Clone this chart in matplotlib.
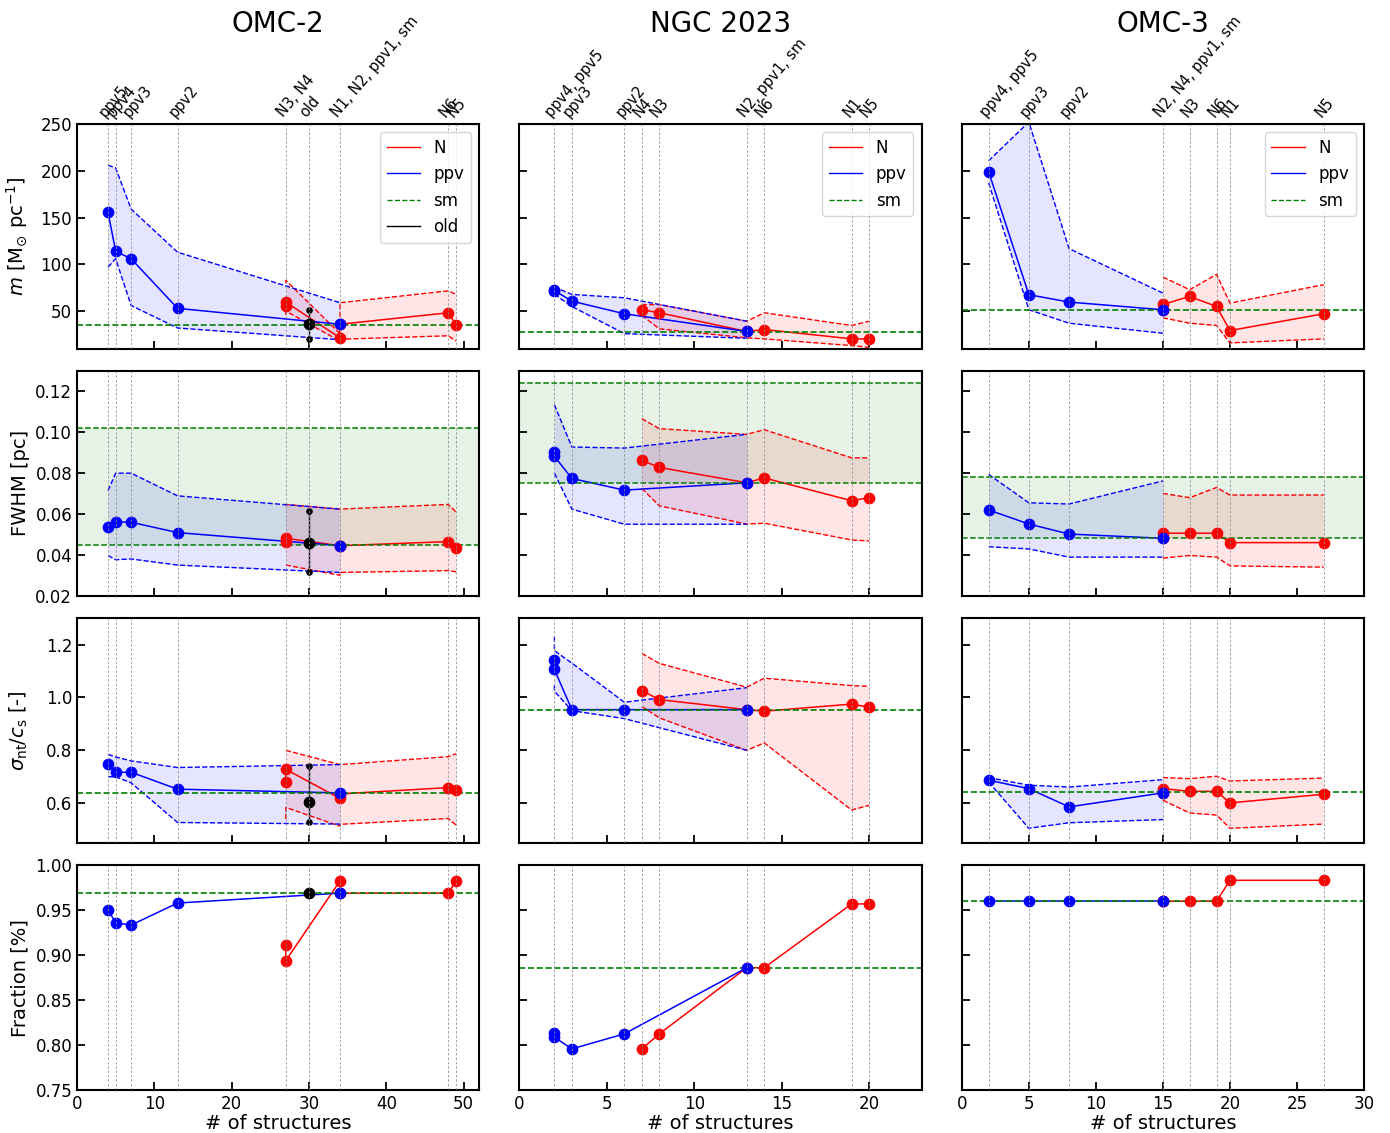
import matplotlib
matplotlib.use('Agg')
import matplotlib.pyplot as plt
from matplotlib.lines import Line2D

# ---------------- OMC-2 ----------------
o2_top_x = [4, 5, 7, 13, 27, 30, 34, 48, 49]
o2_top_lab = ['ppv5', 'ppv4', 'ppv3', 'ppv2', 'N3, N4', 'old', 'N1, N2, ppv1, sm', 'N6', 'N5']

o2_ppv_x = [4, 5, 7, 13, 34]
o2_ppv_m = [156, 114, 106, 53, 36]
o2_ppv_m_lo = [97, 106, 56, 32, 19.5]
o2_ppv_m_hi = [206, 203, 159, 113, 59]
o2_ppv_fwhm = [0.0538, 0.0562, 0.0560, 0.0509, 0.0445]
o2_ppv_fwhm_lo = [0.0397, 0.0376, 0.0380, 0.0350, 0.0314]
o2_ppv_fwhm_hi = [0.0714, 0.0800, 0.0800, 0.0689, 0.0624]
o2_ppv_sig = [0.747, 0.717, 0.717, 0.653, 0.639]
o2_ppv_sig_lo = [0.700, 0.700, 0.677, 0.527, 0.521]
o2_ppv_sig_hi = [0.785, 0.775, 0.760, 0.735, 0.746]
o2_ppv_frac = [0.9506, 0.936, 0.9335, 0.958, 0.969]

o2_N_x = [27, 27, 34, 34, 48, 49]
o2_N_m = [55, 59.6, 21.5, 36, 48.3, 35.7]
o2_N_m_lo = [46, 50, 18, 20, 23.7, 18]
o2_N_m_hi = [80, 83, 26, 59, 71.7, 68]
o2_N_fwhm = [0.0465, 0.0481, 0.0445, 0.0445, 0.0465, 0.0436]
o2_N_fwhm_lo = [0.0350, 0.0350, 0.0300, 0.0314, 0.0323, 0.0317]
o2_N_fwhm_hi = [0.0640, 0.0647, 0.0624, 0.0624, 0.0647, 0.0610]
o2_N_sig = [0.680, 0.728, 0.618, 0.635, 0.659, 0.649]
o2_N_sig_lo = [0.540, 0.584, 0.513, 0.520, 0.542, 0.517]
o2_N_sig_hi = [0.800, 0.800, 0.746, 0.746, 0.776, 0.787]
o2_N_frac = [0.9116, 0.894, 0.9826, 0.969, 0.969, 0.9826]

o2_old_x = 30
o2_old_m = [36, 20, 51.7]
o2_old_fwhm = [0.0457, 0.0315, 0.0615]
o2_old_sig = [0.605, 0.527, 0.741]
o2_old_frac = 0.969

o2_sm_m = 35.7
o2_sm_fwhm = [0.0447, 0.1021]
o2_sm_sig = 0.637
o2_sm_frac = 0.969

# ---------------- NGC 2023 ----------------
n_top_x = [2, 3, 6, 7, 8, 13, 14, 19, 20]
n_top_lab = ['ppv4, ppv5', 'ppv3', 'ppv2', 'N4', 'N3', 'N2, ppv1, sm', 'N6', 'N1', 'N5']

n_ppv_x = [2, 2, 3, 6, 13]
n_ppv_m = [72.5, 72, 60.7, 47.2, 28.3]
n_ppv_m_lo = [68, 68, 55, 26, 21]
n_ppv_m_hi = [76, 75.7, 67.9, 64.3, 39.3]
n_ppv_fwhm = [0.0904, 0.0883, 0.0774, 0.0717, 0.0753]
n_ppv_fwhm_lo = [0.080, 0.080, 0.0624, 0.055, 0.055]
n_ppv_fwhm_hi = [0.1135, 0.1135, 0.0928, 0.0923, 0.099]
n_ppv_sig = [1.140, 1.106, 0.954, 0.954, 0.954]
n_ppv_sig_lo = [1.045, 1.024, 0.950, 0.920, 0.800]
n_ppv_sig_hi = [1.230, 1.177, 1.130, 0.982, 1.037]
n_ppv_frac = [0.813, 0.8087, 0.7957, 0.8124, 0.886]

n_N_x = [7, 8, 13, 14, 19, 20]
n_N_m = [51.5, 48.3, 28.3, 30.4, 20.4, 20.4]
n_N_m_lo = [45.4, 31.1, 21.5, 20.4, 13.2, 11.4]
n_N_m_hi = [57, 57, 39.3, 48.3, 34.7, 39.3]
n_N_fwhm = [0.0863, 0.0828, 0.0753, 0.0777, 0.0665, 0.068]
n_N_fwhm_lo = [0.0725, 0.064, 0.0551, 0.0555, 0.0473, 0.0468]
n_N_fwhm_hi = [0.1067, 0.1018, 0.099, 0.1013, 0.0875, 0.0875]
n_N_sig = [1.026, 0.992, 0.954, 0.948, 0.975, 0.963]
n_N_sig_lo = [0.966, 0.923, 0.800, 0.828, 0.574, 0.592]
n_N_sig_hi = [1.167, 1.129, 1.039, 1.073, 1.045, 1.042]
n_N_frac = [0.7957, 0.8124, 0.886, 0.886, 0.957, 0.957]

n_sm_m = 27.5
n_sm_fwhm = [0.0753, 0.124]
n_sm_sig = 0.954
n_sm_frac = 0.886

# ---------------- OMC-3 ----------------
o3_top_x = [2, 5, 8, 15, 17, 19, 20, 27]
o3_top_lab = ['ppv4, ppv5', 'ppv3', 'ppv2', 'N2, N4, ppv1, sm', 'N3', 'N6', 'N1', 'N5']

o3_ppv_x = [2, 5, 8, 15]
o3_ppv_m = [199, 67.6, 59.7, 51.5]
o3_ppv_m_lo = [187, 51.5, 37.1, 26.4]
o3_ppv_m_hi = [210.7, 252, 116.8, 69.3]
o3_ppv_fwhm = [0.062, 0.0551, 0.0502, 0.0481]
o3_ppv_fwhm_lo = [0.044, 0.0429, 0.0389, 0.0389]
o3_ppv_fwhm_hi = [0.0794, 0.0655, 0.0649, 0.0762]
o3_ppv_sig = [0.687, 0.655, 0.586, 0.639]
o3_ppv_sig_lo = [0.680, 0.505, 0.526, 0.538]
o3_ppv_sig_hi = [0.697, 0.668, 0.661, 0.689]
o3_ppv_frac = [0.96, 0.96, 0.96, 0.96]

o3_N_x = [15, 15, 17, 19, 20, 27]
o3_N_m = [51.5, 57.2, 65.7, 55, 29.3, 47.2]
o3_N_m_lo = [42.9, 42.9, 37.1, 34.7, 16.1, 20.4]
o3_N_m_hi = [86.4, 86.4, 72.9, 89.3, 58.6, 78.3]
o3_N_fwhm = [0.0481, 0.0506, 0.0506, 0.0506, 0.046, 0.046]
o3_N_fwhm_lo = [0.0384, 0.0384, 0.0397, 0.0389, 0.0346, 0.034]
o3_N_fwhm_hi = [0.0701, 0.0701, 0.068, 0.073, 0.0693, 0.0693]
o3_N_sig = [0.639, 0.655, 0.645, 0.645, 0.601, 0.634]
o3_N_sig_lo = [0.611, 0.611, 0.563, 0.555, 0.505, 0.521]
o3_N_sig_hi = [0.697, 0.697, 0.693, 0.702, 0.684, 0.695]
o3_N_frac = [0.96, 0.96, 0.96, 0.96, 0.9833, 0.9833]

o3_sm_m = 51.5
o3_sm_fwhm = [0.0481, 0.0779]
o3_sm_sig = 0.643
o3_sm_frac = 0.96

region_names = ['OMC-2', 'NGC 2023', 'OMC-3']
xlims = [(0, 52), (0, 23), (0, 30)]
xticks = [[0, 10, 20, 30, 40, 50], [0, 5, 10, 15, 20], [0, 5, 10, 15, 20, 25, 30]]
ylabels = [r'$m$ [M$_{\odot}$ pc$^{-1}$]', 'FWHM [pc]',
           r'$\sigma_{\rm nt}/c_{\rm s}$ [-]', 'Fraction [%]']
ylims = [(10, 250), (0.02, 0.13), (0.45, 1.3), (0.75, 1.0)]
yticks = [[50, 100, 150, 200, 250], [0.02, 0.04, 0.06, 0.08, 0.10, 0.12],
          [0.6, 0.8, 1.0, 1.2], [0.75, 0.80, 0.85, 0.90, 0.95, 1.00]]

# build per-region tables from the lists above
regions = [
    dict(top_x=o2_top_x, top_lab=o2_top_lab,
         ppv=(o2_ppv_x, [(o2_ppv_m, o2_ppv_m_lo, o2_ppv_m_hi), (o2_ppv_fwhm, o2_ppv_fwhm_lo, o2_ppv_fwhm_hi),
                         (o2_ppv_sig, o2_ppv_sig_lo, o2_ppv_sig_hi), (o2_ppv_frac, None, None)]),
         N=(o2_N_x, [(o2_N_m, o2_N_m_lo, o2_N_m_hi), (o2_N_fwhm, o2_N_fwhm_lo, o2_N_fwhm_hi),
                     (o2_N_sig, o2_N_sig_lo, o2_N_sig_hi), (o2_N_frac, None, None)]),
         sm=[o2_sm_m, o2_sm_fwhm, o2_sm_sig, o2_sm_frac],
         old=(o2_old_x, [o2_old_m, o2_old_fwhm, o2_old_sig, [o2_old_frac]])),
    dict(top_x=n_top_x, top_lab=n_top_lab,
         ppv=(n_ppv_x, [(n_ppv_m, n_ppv_m_lo, n_ppv_m_hi), (n_ppv_fwhm, n_ppv_fwhm_lo, n_ppv_fwhm_hi),
                        (n_ppv_sig, n_ppv_sig_lo, n_ppv_sig_hi), (n_ppv_frac, None, None)]),
         N=(n_N_x, [(n_N_m, n_N_m_lo, n_N_m_hi), (n_N_fwhm, n_N_fwhm_lo, n_N_fwhm_hi),
                    (n_N_sig, n_N_sig_lo, n_N_sig_hi), (n_N_frac, None, None)]),
         sm=[n_sm_m, n_sm_fwhm, n_sm_sig, n_sm_frac], old=None),
    dict(top_x=o3_top_x, top_lab=o3_top_lab,
         ppv=(o3_ppv_x, [(o3_ppv_m, o3_ppv_m_lo, o3_ppv_m_hi), (o3_ppv_fwhm, o3_ppv_fwhm_lo, o3_ppv_fwhm_hi),
                         (o3_ppv_sig, o3_ppv_sig_lo, o3_ppv_sig_hi), (o3_ppv_frac, None, None)]),
         N=(o3_N_x, [(o3_N_m, o3_N_m_lo, o3_N_m_hi), (o3_N_fwhm, o3_N_fwhm_lo, o3_N_fwhm_hi),
                     (o3_N_sig, o3_N_sig_lo, o3_N_sig_hi), (o3_N_frac, None, None)]),
         sm=[o3_sm_m, o3_sm_fwhm, o3_sm_sig, o3_sm_frac], old=None),
]

fig, axes = plt.subplots(4, 3, figsize=(13.9, 11.33), dpi=100, sharex='col', sharey='row')
fig.subplots_adjust(left=0.0554, right=0.9813, top=0.8906, bottom=0.038, wspace=0.1, hspace=0.1)

for c, reg in enumerate(regions):
    for r in range(4):
        ax = axes[r, c]
        for key, col in (('N', 'r'), ('ppv', 'b')):
            xs, rows = reg[key]
            y, lo, hi = rows[r]
            if lo is not None:
                ax.fill_between(xs, lo, hi, color=col, alpha=0.1, lw=0, zorder=1)
                ax.plot(xs, lo, '--', color=col, lw=1, zorder=2)
                ax.plot(xs, hi, '--', color=col, lw=1, zorder=2)
            ax.plot(xs, y, '-', color=col, lw=1.1, zorder=2.2)
            ax.scatter(xs, y, s=55, color=col, zorder=3)
        sm = reg['sm'][r]
        if r == 1:
            ax.axhspan(sm[0], sm[1], color='g', alpha=0.1, lw=0, zorder=0.5)
            ax.axhline(sm[0], color='g', ls='--', lw=1.1, zorder=2.5)
            ax.axhline(sm[1], color='g', ls='--', lw=1.1, zorder=2.5)
        else:
            ax.axhline(sm, color='g', ls='--', lw=1.2, zorder=2.5)
        if reg['old'] is not None:
            ox, ovals = reg['old']
            ov = ovals[r]
            if len(ov) == 3:
                ax.plot([ox, ox], [ov[1], ov[2]], '-', color='k', lw=1, zorder=3)
                ax.scatter([ox, ox], [ov[1], ov[2]], s=14, color='k', zorder=3)
            ax.scatter([ox], [ov[0]], s=55, color='k', zorder=3.1)
        for xv in reg['top_x']:
            ax.axvline(xv, color='0.55', ls=(0, (2.5, 2)), lw=0.7, alpha=0.8, zorder=4)
        ax.set_xlim(*xlims[c])
        ax.set_xticks(xticks[c])
        ax.set_ylim(*ylims[r])
        ax.set_yticks(yticks[r])
        ax.tick_params(direction='in', length=6, width=1.3, labelsize=12, top=False, right=False)
        for s in ax.spines.values():
            s.set_linewidth(1.5)
        if c == 0:
            ax.set_ylabel(ylabels[r], fontsize=14)
        if r == 3:
            ax.set_xlabel('# of structures', fontsize=14, labelpad=1)
        if r == 0:
            sec = ax.secondary_xaxis('top')
            sec.set_xticks(reg['top_x'], labels=reg['top_lab'])
            sec.tick_params(length=0, pad=3, labelsize=10.5)
            for lbl in sec.get_xticklabels():
                lbl.set_rotation(50)
                lbl.set_ha('left')
                lbl.set_va('bottom')
                lbl.set_rotation_mode('anchor')
            handles = [Line2D([], [], color='r', lw=1), Line2D([], [], color='b', lw=1),
                       Line2D([], [], color='g', ls='--', lw=1)]
            labels = ['N', 'ppv', 'sm']
            if reg['old'] is not None:
                handles.append(Line2D([], [], color='k', lw=1))
                labels.append('old')
            ax.legend(handles, labels, loc='upper right', fontsize=12)
    pos = axes[0, c].get_position()
    fig.text((pos.x0 + pos.x1) / 2, 0.979, region_names[c], ha='center', va='center', fontsize=20)

fig.align_ylabels(axes[:, 0])
fig.savefig('out.png', dpi=100)
